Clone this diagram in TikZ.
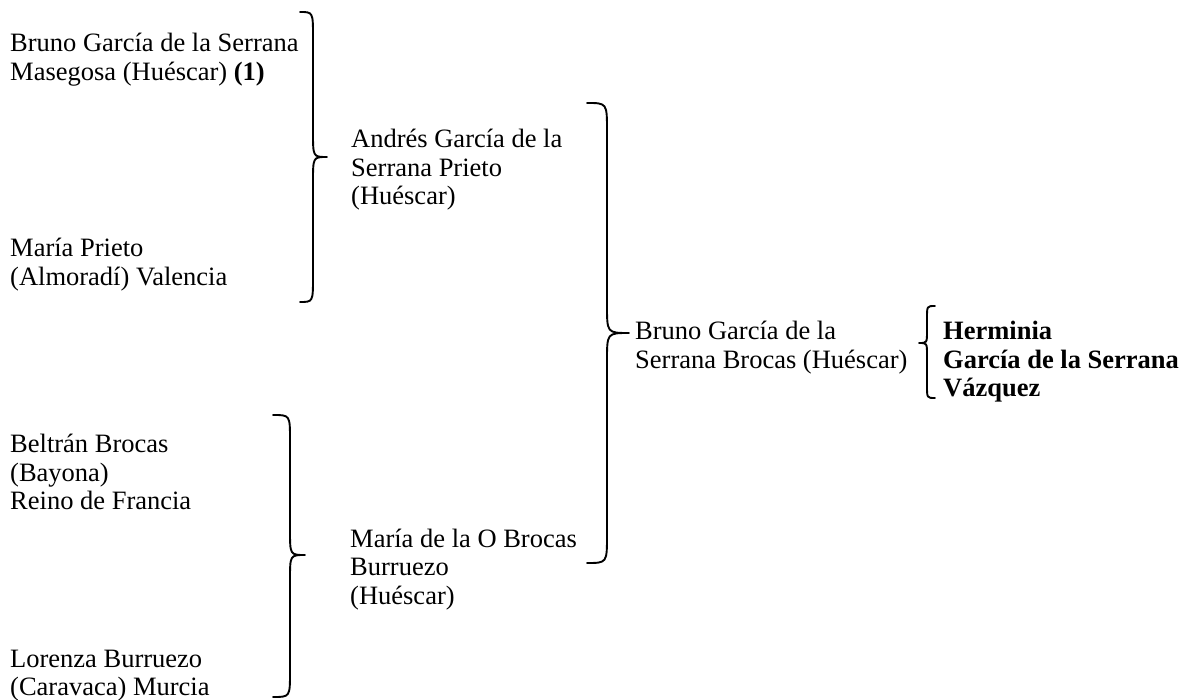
\documentclass[tikz,border=0pt]{standalone}
\usepackage{fontspec}
\setmainfont{Liberation Serif}
\newcommand{\mybrace}[7]{% xe, xv, xtip, yt, ym, yb, r
  \draw[bracestyle] (#1,#4) .. controls (#2,#4) .. (#2,#4+#7) -- (#2,#5-#7)
    .. controls (#2,#5) .. (#3,#5) .. controls (#2,#5) .. (#2,#5+#7)
    -- (#2,#6-#7) .. controls (#2,#6) .. (#1,#6);}
\begin{document}
\begin{tikzpicture}[x=1pt,y=-1pt,
  bracestyle/.style={line width=1.9pt, line join=round, line cap=round},
  person/.style={anchor=base west, align=left, inner sep=0pt,
    font=\fontsize{26.5}{28.5}\selectfont}]
\useasboundingbox (0,0) rectangle (1195,700);
% generation 1 (y = baseline of last line)
\node[person] (a) at (10,80.5) {Bruno García de la Serrana\\Masegosa (Huéscar) \textbf{(1)}};
\node[person] (b) at (10,285.5) {María Prieto\\(Almoradí) Valencia};
\node[person] (f) at (10,510) {Beltrán Brocas\\(Bayona)\\Reino de Francia};
\node[person] (g) at (10,695.5) {Lorenza Burruezo\\(Caravaca) Murcia};
% generation 2
\node[person] (c) at (351,205) {Andrés García de la\\Serrana Prieto\\(Huéscar)};
\node[person] (h) at (350,604) {María de la O Brocas\\Burruezo\\(Huéscar)};
% generation 3
\node[person] (d) at (635,368.5) {Bruno García de la\\Serrana Brocas (Huéscar)};
% generation 4
\node[person, font=\fontsize{26.5}{28.5}\selectfont\bfseries] (e) at (943,397) {Herminia\\García de la Serrana\\Vázquez};
% braces
\mybrace{300}{313}{327}{12}{157}{302}{25}
\mybrace{587}{607}{629}{103}{333}{563}{28}
\mybrace{273}{290}{305}{415}{555}{697}{25}
\mybrace{935}{927}{919}{306}{343}{398}{12}
\end{tikzpicture}
\end{document}
